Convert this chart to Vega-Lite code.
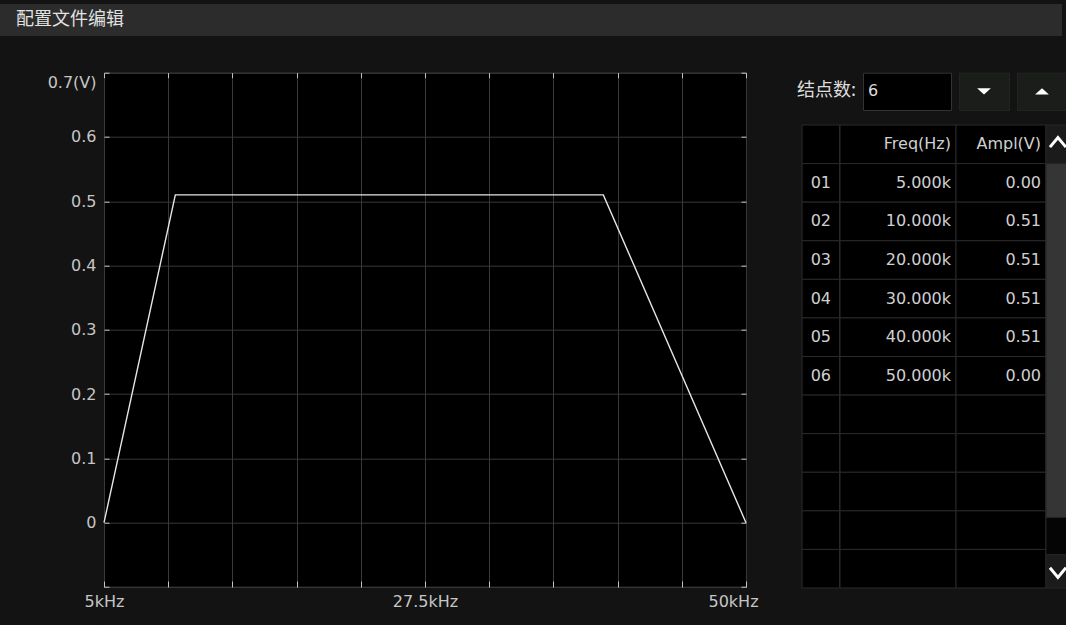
{
  "$schema": "https://vega.github.io/schema/vega-lite/v6.json",
  "background": "#131313",
  "padding": {"left": 0, "top": 4, "right": 0, "bottom": 0},
  "bounds": "flush",
  "spacing": 36.7,
  "config": {
    "view": {"stroke": null},
    "font": "DejaVu Sans",
    "axis": {"labelFont": "DejaVu Sans", "labelFontSize": 16, "labelColor": "#c6c6c6", "domain": false, "title": null}
  },
  "datasets": {
    "pts": [
      {"freq": 5000, "ampl": 0},
      {"freq": 10000, "ampl": 0.51},
      {"freq": 20000, "ampl": 0.51},
      {"freq": 30000, "ampl": 0.51},
      {"freq": 40000, "ampl": 0.51},
      {"freq": 50000, "ampl": 0}
    ],
    "rows": [
      {"r": "h", "idx": "", "freq": "Freq(Hz)", "ampl": "Ampl(V)"},
      {"r": "01", "idx": "01", "freq": "5.000k", "ampl": "0.00"},
      {"r": "02", "idx": "02", "freq": "10.000k", "ampl": "0.51"},
      {"r": "03", "idx": "03", "freq": "20.000k", "ampl": "0.51"},
      {"r": "04", "idx": "04", "freq": "30.000k", "ampl": "0.51"},
      {"r": "05", "idx": "05", "freq": "40.000k", "ampl": "0.51"},
      {"r": "06", "idx": "06", "freq": "50.000k", "ampl": "0.00"},
      {"r": "07", "idx": "", "freq": "", "ampl": ""},
      {"r": "08", "idx": "", "freq": "", "ampl": ""},
      {"r": "09", "idx": "", "freq": "", "ampl": ""},
      {"r": "10", "idx": "", "freq": "", "ampl": ""},
      {"r": "11", "idx": "", "freq": "", "ampl": ""}
    ],
    "scroll": [
      {"part": "up", "y0": 0, "y1": 1},
      {"part": "track", "y0": 1, "y1": 11.14},
      {"part": "thumb", "y0": 1, "y1": 10.17},
      {"part": "down", "y0": 11.14, "y1": 12}
    ],
    "chev": [
      {"dir": "up", "y": 0.45},
      {"dir": "down", "y": 11.6}
    ]
  },
  "vconcat": [
    {
      "width": 1062,
      "height": 32,
      "view": {"fill": "#2c2c2c"},
      "data": {"values": [{"t": "配置文件编辑"}]},
      "mark": {"type": "text", "align": "left", "baseline": "middle", "dx": 16, "font": "Noto Sans CJK SC", "fontSize": 18, "color": "#e2e2e2"},
      "encoding": {
        "text": {"field": "t"},
        "x": {"datum": 0, "type": "quantitative", "scale": {"domain": [0, 1]}, "axis": null}
      }
    },
    {
      "bounds": "flush",
      "spacing": 0,
      "hconcat": [
        {
          "width": 103.3,
          "height": 552.3,
          "view": {"fill": "#131313"},
          "data": {"values": [{}]},
          "mark": {"type": "point", "opacity": 0},
          "encoding": {}
        },
        {
          "width": 642,
          "height": 514.3,
          "view": {"fill": "#000000", "stroke": "#383838"},
          "data": {"name": "pts"},
          "layer": [
            {
              "mark": {"type": "line", "color": "#e6e6e6", "strokeWidth": 1.4},
              "encoding": {
                "x": {
                  "field": "freq", "type": "quantitative",
                  "scale": {"domain": [5000, 50000], "nice": false, "zero": false},
                  "axis": {
                    "orient": "bottom",
                    "values": [5000, 9500, 14000, 18500, 23000, 27500, 32000, 36500, 41000, 45500, 50000],
                    "grid": true, "gridColor": "#383838", "gridWidth": 1,
                    "ticks": true, "tickSize": -6, "tickColor": "#c4c4c4",
                    "labelFlush": false,
                    "labelPadding": 12,
                    "labelExpr": "datum.value == 5000 ? '5kHz' : datum.value == 27500 ? '27.5kHz' : datum.value == 50000 ? '50kHz' : ''",
                    "labelOffset": {"condition": {"test": "datum.value == 50000", "value": -13}, "value": 0}
                  }
                },
                "y": {
                  "field": "ampl", "type": "quantitative",
                  "scale": {"domain": [-0.1, 0.7], "nice": false, "zero": false},
                  "axis": {
                    "orient": "left",
                    "values": [-0.1, 0, 0.1, 0.2, 0.3, 0.4, 0.5, 0.6, 0.7],
                    "grid": true, "gridColor": "#383838", "gridWidth": 1,
                    "ticks": true, "tickSize": -5, "tickColor": "#c4c4c4",
                    "labelFlush": false,
                    "labelPadding": 13,
                    "labelExpr": "datum.value < -0.05 ? '' : datum.value > 0.65 ? '0.7(V)' : format(datum.value, '.1~f')",
                    "labelOffset": {"condition": {"test": "datum.value > 0.65", "value": 10}, "value": 0}
                  }
                }
              }
            },
            {
              "mark": {"type": "line", "opacity": 0},
              "encoding": {
                "x": {
                  "field": "freq", "type": "quantitative",
                  "axis": {
                    "orient": "top",
                    "values": [5000, 9500, 14000, 18500, 23000, 27500, 32000, 36500, 41000, 45500, 50000],
                    "grid": false, "labels": false,
                    "ticks": true, "tickSize": -5, "tickColor": "#c4c4c4"
                  }
                },
                "y": {
                  "field": "ampl", "type": "quantitative",
                  "axis": {
                    "orient": "right",
                    "values": [-0.1, 0, 0.1, 0.2, 0.3, 0.4, 0.5, 0.6, 0.7],
                    "grid": false, "labels": false,
                    "ticks": true, "tickSize": -5, "tickColor": "#c4c4c4"
                  }
                }
              }
            }
          ],
          "resolve": {"axis": {"x": "independent", "y": "independent"}}
        },
        {
          "width": 50.7,
          "height": 514.3,
          "data": {"values": [{}]},
          "mark": {"type": "point", "opacity": 0},
          "encoding": {}
        },
        {
          "bounds": "full",
          "spacing": 13.3,
          "vconcat": [
            {
              "bounds": "flush",
              "spacing": 8,
              "hconcat": [
                {
                  "width": 58,
                  "height": 37.3,
                  "data": {"values": [{"t": "结点数:"}]},
                  "mark": {"type": "text", "align": "left", "baseline": "middle", "font": "Noto Sans CJK SC", "fontSize": 18, "color": "#dddddd"},
                  "encoding": {
                    "text": {"field": "t"},
                    "x": {"datum": 0, "type": "quantitative", "scale": {"domain": [0, 1]}, "axis": null}
                  }
                },
                {
                  "width": 88,
                  "height": 37.3,
                  "view": {"fill": "#000000", "stroke": "#333333"},
                  "data": {"values": [{"t": "6"}]},
                  "mark": {"type": "text", "align": "left", "baseline": "middle", "dx": 5, "fontSize": 16, "color": "#dddddd"},
                  "encoding": {
                    "text": {"field": "t"},
                    "x": {"datum": 0, "type": "quantitative", "scale": {"domain": [0, 1]}, "axis": null}
                  }
                },
                {
                  "width": 50,
                  "height": 37.3,
                  "view": {"fill": "#1a1d1a", "stroke": "#2e332e", "strokeDash": [1, 1]},
                  "data": {"values": [{"dir": "down"}]},
                  "mark": {"type": "point", "shape": "M-1,-0.45L1,-0.45L0,0.45Z", "filled": true, "size": 190, "color": "#ffffff", "opacity": 1},
                  "encoding": {}
                },
                {
                  "width": 50,
                  "height": 37.3,
                  "view": {"fill": "#1a1d1a", "stroke": "#2e332e", "strokeDash": [1, 1]},
                  "data": {"values": [{"dir": "up"}]},
                  "mark": {"type": "point", "shape": "M-1,0.45L1,0.45L0,-0.45Z", "filled": true, "size": 190, "color": "#ffffff", "opacity": 1},
                  "encoding": {}
                }
              ]
            },
            {
              "bounds": "flush",
              "spacing": 0,
              "hconcat": [
                {
                  "width": 4.7,
                  "height": 463,
                  "data": {"values": [{}]},
                  "mark": {"type": "point", "opacity": 0},
                  "encoding": {}
                },
                {
                  "width": 37.6,
                  "height": 463,
                  "data": {"name": "rows"},
                  "layer": [
                    {
                      "mark": {"type": "rect", "fill": "#000000", "stroke": "#2a2a2a", "strokeWidth": 1},
                      "encoding": {
                        "y": {"field": "r", "type": "nominal", "sort": null, "scale": {"type": "band", "paddingInner": 0, "paddingOuter": 0}, "axis": null},
                        "x": {"datum": 0, "type": "quantitative", "scale": {"domain": [0, 1]}, "axis": null},
                        "x2": {"datum": 1}
                      }
                    },
                    {
                      "mark": {"type": "text", "align": "center", "baseline": "middle", "fontSize": 16, "color": "#d0d0d0"},
                      "encoding": {
                        "y": {"field": "r", "type": "nominal", "sort": null},
                        "x": {"datum": 0.5, "type": "quantitative"},
                        "text": {"field": "idx"}
                      }
                    }
                  ]
                },
                {
                  "width": 116,
                  "height": 463,
                  "data": {"name": "rows"},
                  "layer": [
                    {
                      "mark": {"type": "rect", "fill": "#000000", "stroke": "#2a2a2a", "strokeWidth": 1},
                      "encoding": {
                        "y": {"field": "r", "type": "nominal", "sort": null, "scale": {"type": "band", "paddingInner": 0, "paddingOuter": 0}, "axis": null},
                        "x": {"datum": 0, "type": "quantitative", "scale": {"domain": [0, 1]}, "axis": null},
                        "x2": {"datum": 1}
                      }
                    },
                    {
                      "mark": {"type": "text", "align": "right", "baseline": "middle", "dx": -5, "fontSize": 16, "color": "#d0d0d0"},
                      "encoding": {
                        "y": {"field": "r", "type": "nominal", "sort": null},
                        "x": {"datum": 1, "type": "quantitative"},
                        "text": {"field": "freq"}
                      }
                    }
                  ]
                },
                {
                  "width": 90,
                  "height": 463,
                  "data": {"name": "rows"},
                  "layer": [
                    {
                      "mark": {"type": "rect", "fill": "#000000", "stroke": "#2a2a2a", "strokeWidth": 1},
                      "encoding": {
                        "y": {"field": "r", "type": "nominal", "sort": null, "scale": {"type": "band", "paddingInner": 0, "paddingOuter": 0}, "axis": null},
                        "x": {"datum": 0, "type": "quantitative", "scale": {"domain": [0, 1]}, "axis": null},
                        "x2": {"datum": 1}
                      }
                    },
                    {
                      "mark": {"type": "text", "align": "right", "baseline": "middle", "dx": -5, "fontSize": 16, "color": "#d0d0d0"},
                      "encoding": {
                        "y": {"field": "r", "type": "nominal", "sort": null},
                        "x": {"datum": 1, "type": "quantitative"},
                        "text": {"field": "ampl"}
                      }
                    }
                  ]
                },
                {
                  "width": 21.7,
                  "height": 463,
                  "layer": [
                    {
                      "data": {"name": "scroll"},
                      "mark": {"type": "rect", "stroke": "#262626", "strokeWidth": 1},
                      "encoding": {
                        "y": {"field": "y0", "type": "quantitative", "scale": {"domain": [0, 12], "reverse": true, "nice": false, "zero": false}, "axis": null},
                        "y2": {"field": "y1"},
                        "x": {"datum": 0, "type": "quantitative", "scale": {"domain": [0, 1]}, "axis": null},
                        "x2": {"datum": 1},
                        "color": {"field": "part", "type": "nominal", "scale": {"domain": ["up", "track", "thumb", "down"], "range": ["#1b1b1b", "#050505", "#353535", "#1b1b1b"]}, "legend": null}
                      }
                    },
                    {
                      "data": {"name": "chev"},
                      "mark": {"type": "point", "filled": false, "strokeWidth": 3, "color": "#ffffff", "opacity": 1, "size": 256},
                      "encoding": {
                        "y": {"field": "y", "type": "quantitative"},
                        "x": {"datum": 0.55, "type": "quantitative"},
                        "shape": {"field": "dir", "type": "nominal", "scale": {"domain": ["up", "down"], "range": ["M-1,0.6L0,-0.6L1,0.6", "M-1,-0.6L0,0.6L1,-0.6"]}, "legend": null}
                      }
                    }
                  ]
                }
              ]
            }
          ]
        }
      ]
    }
  ]
}
